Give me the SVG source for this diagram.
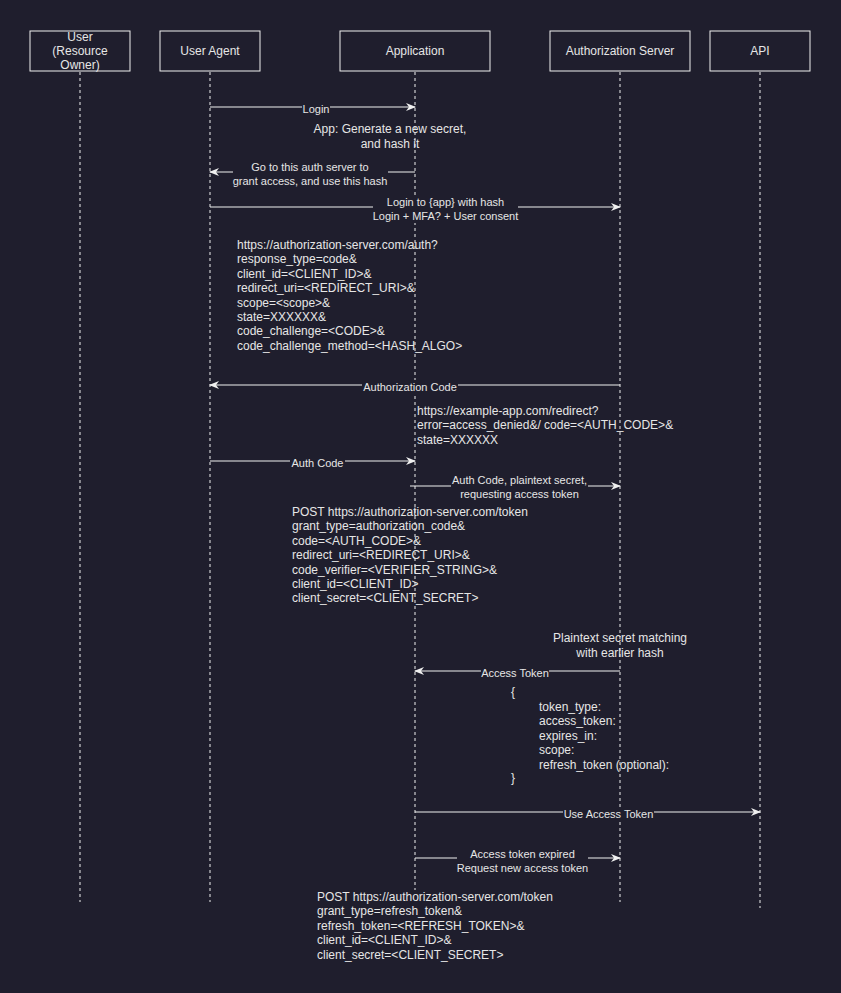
<svg xmlns="http://www.w3.org/2000/svg" width="841" height="993" viewBox="0 0 841 993">
<style>
text{font-family:"Liberation Sans",Arial,sans-serif;fill:#e6e6e6}
.n{font-size:12px}
.l{font-size:11px}
.c{text-anchor:middle}
.box{fill:none;stroke:#f0f0f0;stroke-width:1}
.life{stroke:#f0f0f0;stroke-width:1;stroke-dasharray:3 3;fill:none}
.msg{stroke:#f0f0f0;stroke-width:1;fill:none;marker-end:url(#arr)}
.bg{fill:#1f1e2d}
</style>
<defs>
<marker id="arr" viewBox="0 0 10 10" refX="9" refY="5" markerWidth="10" markerHeight="10" markerUnits="userSpaceOnUse" orient="auto">
<path d="M0,1 L10,5 L0,9 L3,5 Z" fill="#f0f0f0"/>
</marker>
</defs>
<rect width="841" height="993" fill="#1f1e2d"/>

<g id="lifelines">
<line class="life" x1="80" y1="72" x2="80" y2="902"/>
<line class="life" x1="210" y1="72" x2="210" y2="902"/>
<line class="life" x1="415" y1="72" x2="415" y2="890"/>
<line class="life" x1="620" y1="72" x2="620" y2="902"/>
<line class="life" x1="760" y1="72" x2="760" y2="908"/>
</g>

<g id="user"><rect class="box" x="30" y="31" width="100" height="40"/>
<text class="n c" x="80" y="41">User</text><text class="n c" x="80" y="55">(Resource</text><text class="n c" x="80" y="69">Owner)</text></g>
<g id="useragent"><rect class="box" x="160" y="31" width="100" height="40"/><text class="n c" x="210" y="55">User Agent</text></g>
<g id="application"><rect class="box" x="340" y="31" width="150" height="40"/><text class="n c" x="415" y="55">Application</text></g>
<g id="authserver"><rect class="box" x="550" y="31" width="140" height="40"/><text class="n c" x="620" y="55">Authorization Server</text></g>
<g id="api"><rect class="box" x="710" y="31" width="100" height="40"/><text class="n c" x="760" y="55">API</text></g>

<g id="connectors">
<line class="msg" x1="210" y1="107" x2="415" y2="107"/>
<rect class="bg" x="302" y="101" width="28" height="14"/>
<text class="l c" x="316" y="113">Login</text>

<line class="msg" x1="415" y1="172" x2="210" y2="172"/>
<rect class="bg" x="233" y="160" width="155" height="28"/>
<text class="l c" x="310" y="171">Go to this auth server to</text>
<text class="l c" x="310" y="185">grant access, and use this hash</text>

<line class="msg" x1="210" y1="207" x2="620" y2="207"/>
<rect class="bg" x="373" y="195" width="145" height="28"/>
<text class="l c" x="445.5" y="206">Login to {app} with hash</text>
<text class="l c" x="445.5" y="220">Login + MFA? + User consent</text>

<line class="msg" x1="620" y1="385" x2="210" y2="385"/>
<rect class="bg" x="362" y="380" width="96" height="13"/>
<text class="l c" x="410" y="391">Authorization Code</text>

<line class="msg" x1="210" y1="461" x2="415" y2="461"/>
<rect class="bg" x="290" y="456" width="55" height="13"/>
<text class="l c" x="317.5" y="467">Auth Code</text>

<line class="msg" x1="410" y1="486" x2="620" y2="486"/>
<rect class="bg" x="451" y="473" width="137" height="28"/>
<text class="l c" x="519.5" y="484">Auth Code, plaintext secret,</text>
<text class="l c" x="519.5" y="498">requesting access token</text>

<line class="msg" x1="620" y1="671" x2="415" y2="671"/>
<rect class="bg" x="481" y="666" width="68" height="13"/>
<text class="l c" x="515" y="677">Access Token</text>

<line class="msg" x1="415" y1="812" x2="760" y2="812"/>
<rect class="bg" x="563" y="807" width="91" height="13"/>
<text class="l c" x="608.5" y="818">Use Access Token</text>

<line class="msg" x1="415" y1="858" x2="620" y2="858"/>
<rect class="bg" x="457" y="847" width="131" height="28"/>
<text class="l c" x="522.5" y="858">Access token expired</text>
<text class="l c" x="522.5" y="872">Request new access token</text>
</g>

<g id="notes">
<text class="n c" x="390" y="133">App: Generate a new secret,</text>
<text class="n c" x="390" y="148">and hash it</text>

<text class="n" x="237" y="249">https://authorization-server.com/auth?</text>
<text class="n" x="237" y="263.4">response_type=code&amp;</text>
<text class="n" x="237" y="277.8">client_id=&lt;CLIENT_ID&gt;&amp;</text>
<text class="n" x="237" y="292.2">redirect_uri=&lt;REDIRECT_URI&gt;&amp;</text>
<text class="n" x="237" y="306.6">scope=&lt;scope&gt;&amp;</text>
<text class="n" x="237" y="321">state=XXXXXX&amp;</text>
<text class="n" x="237" y="335.4">code_challenge=&lt;CODE&gt;&amp;</text>
<text class="n" x="237" y="349.8">code_challenge_method=&lt;HASH_ALGO&gt;</text>

<text class="n" x="417" y="415">https://example-app.com/redirect?</text>
<text class="n" x="417" y="429.4">error=access_denied&amp;/ code=&lt;AUTH_CODE&gt;&amp;</text>
<text class="n" x="417" y="443.8">state=XXXXXX</text>

<text class="n" x="292" y="516">POST https://authorization-server.com/token</text>
<text class="n" x="292" y="530.4">grant_type=authorization_code&amp;</text>
<text class="n" x="292" y="544.8">code=&lt;AUTH_CODE&gt;&amp;</text>
<text class="n" x="292" y="559.2">redirect_uri=&lt;REDIRECT_URI&gt;&amp;</text>
<text class="n" x="292" y="573.6">code_verifier=&lt;VERIFIER_STRING&gt;&amp;</text>
<text class="n" x="292" y="588">client_id=&lt;CLIENT_ID&gt;</text>
<text class="n" x="292" y="602.4">client_secret=&lt;CLIENT_SECRET&gt;</text>

<text class="n c" x="620" y="642">Plaintext secret matching</text>
<text class="n c" x="620" y="657">with earlier hash</text>

<text class="n" x="511" y="696">{</text>
<text class="n" x="539" y="711">token_type:</text>
<text class="n" x="539" y="725.4">access_token:</text>
<text class="n" x="539" y="739.8">expires_in:</text>
<text class="n" x="539" y="754.2">scope:</text>
<text class="n" x="539" y="768.6">refresh_token (optional):</text>
<text class="n" x="511" y="782">}</text>

<text class="n" x="317" y="901">POST https://authorization-server.com/token</text>
<text class="n" x="317" y="915.4">grant_type=refresh_token&amp;</text>
<text class="n" x="317" y="929.8">refresh_token=&lt;REFRESH_TOKEN&gt;&amp;</text>
<text class="n" x="317" y="944.2">client_id=&lt;CLIENT_ID&gt;&amp;</text>
<text class="n" x="317" y="958.6">client_secret=&lt;CLIENT_SECRET&gt;</text>
</g>
</svg>
